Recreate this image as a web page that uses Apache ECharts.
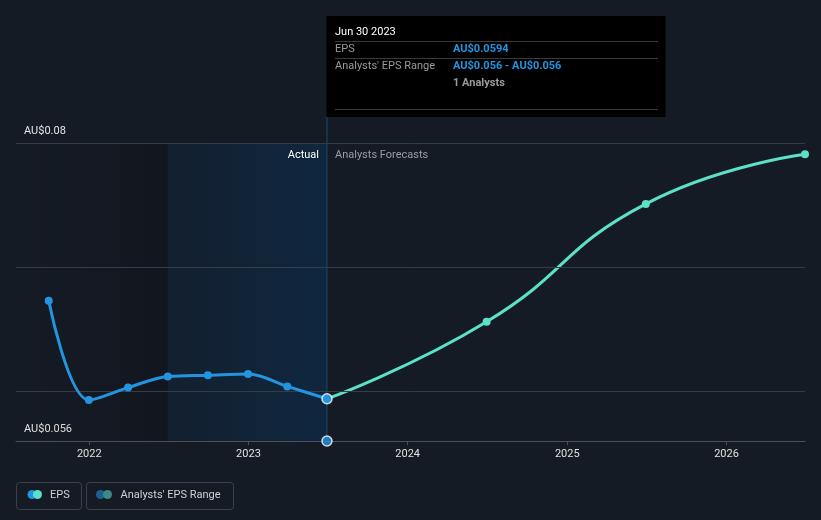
<!DOCTYPE html>
<html>
<head>
<meta charset="utf-8">
<script src="https://cdn.jsdelivr.net/npm/echarts@6/dist/echarts.min.js"></script>
<style>
html,body{margin:0;padding:0;background:#151b25;}
#chart{width:821px;height:520px;}
</style>
</head>
<body>
<div id="chart"></div>
<script>
// ---- data ----
const actualDates = ['2021-09-30','2021-12-31','2022-03-31','2022-06-30','2022-09-30','2022-12-31','2023-03-31','2023-06-30'];
const actualEps = [0.0673, 0.0593, 0.0603, 0.0612, 0.0613, 0.0614, 0.0604, 0.0594];
const forecastDates = ['2023-06-30','2024-06-30','2025-06-30','2026-06-30'];
const forecastEps = [0.0594, 0.0656, 0.0751, 0.0791];
const rangeDate = '2023-06-30';
const rangeLow = 0.056;
const rangeHigh = 0.056;
const analystsCount = 1;
const gridValues = [0.06, 0.07, 0.08];
const yLabelValues = [0.056, 0.08];
const xMin = '2021-07-17';
const xMax = '2026-06-30';
const yMin = 0.056;
const yMax = 0.0821;
const pastStart = '2022-06-30';
const tooltipTitle = 'Jun 30 2023';

const FONT = 'Roboto, "Noto Sans", sans-serif';
const chart = echarts.init(document.getElementById('chart'), null, {renderer: 'canvas'});

function fmt(v, d) { return 'AU$' + v.toFixed(d); }

const option = {
  backgroundColor: '#151b25',
  animation: false,
  textStyle: {fontFamily: FONT},
  grid: {left: 16, right: 16, top: 117, bottom: 79},
  xAxis: {
    type: 'time',
    min: xMin,
    max: xMax,
    splitNumber: 5,
    axisLine: {lineStyle: {color: '#4a4f59', width: 1}},
    axisTick: {show: true, length: 4, lineStyle: {color: '#4a4f59'}},
    splitLine: {show: false},
    axisLabel: {
      color: '#e0e0e0', fontSize: 11, margin: 8, fontFamily: FONT,
      formatter: function (v) { return String(new Date(v).getFullYear()); }
    }
  },
  yAxis: {
    type: 'value',
    min: yMin,
    max: yMax,
    interval: 0.002,
    axisLine: {show: false},
    axisTick: {show: false},
    splitLine: {show: false},
    axisLabel: {
      inside: true, margin: 8, color: '#e6e6e6', fontSize: 11, fontFamily: FONT,
      verticalAlign: 'bottom', padding: [0, 0, 6, 0],
      showMinLabel: true,
      formatter: function (v) {
        for (const t of yLabelValues) {
          if (Math.abs(v - t) < 1e-9) return fmt(t, t === 0.08 ? 2 : 3);
        }
        return '';
      }
    }
  },
  series: [
    {
      name: 'EPS',
      type: 'line',
      data: actualDates.map((d, i) => [d, actualEps[i]]),
      smooth: 0.35,
      symbol: 'circle',
      symbolSize: 8,
      lineStyle: {color: '#2394df', width: 3},
      itemStyle: {color: '#2394df'},
      z: 5,
      markLine: {
        silent: true,
        symbol: 'none',
        label: {show: false},
        lineStyle: {color: '#363b45', type: 'solid', width: 1},
        data: gridValues.map(v => ({yAxis: v}))
      },
      markArea: {
        silent: true,
        data: [
          [
            {xAxis: xMin, yAxis: 0.08, itemStyle: {color: new echarts.graphic.LinearGradient(0, 0, 1, 0, [
              {offset: 0, color: 'rgba(0,0,0,0)'}, {offset: 1, color: 'rgba(0,0,0,0.18)'}])}},
            {xAxis: pastStart, yAxis: yMin}
          ],
          [
            {xAxis: pastStart, yAxis: 0.08, itemStyle: {color: new echarts.graphic.LinearGradient(0, 0, 1, 0, [
              {offset: 0, color: 'rgba(0,70,130,0.1)'}, {offset: 1, color: 'rgba(0,70,130,0.28)'}])}},
            {xAxis: rangeDate, yAxis: yMin}
          ]
        ]
      }
    },
    {
      name: 'EPS Forecast',
      type: 'line',
      data: forecastDates.map((d, i) => [d, forecastEps[i]]),
      smooth: 0.5,
      symbol: 'circle',
      symbolSize: 8,
      lineStyle: {color: '#5ce0c8', width: 3},
      itemStyle: {color: '#5ce0c8'},
      z: 4
    },
    {
      name: 'Crosshair',
      type: 'line',
      data: [[rangeDate, yMin], [rangeDate, yMax]],
      symbol: 'none',
      silent: true,
      lineStyle: {color: '#1d4a70', width: 1},
      itemStyle: {color: '#1d4a70'},
      emphasis: {disabled: true},
      z: 3
    },
    {
      name: 'Highlight',
      type: 'scatter',
      data: [[rangeDate, actualEps[actualEps.length - 1]], [rangeDate, rangeLow]],
      symbol: 'circle',
      symbolSize: 10,
      clip: false,
      itemStyle: {color: '#2394df', borderColor: '#ffffff', borderWidth: 1.5},
      z: 10,
      silent: true
    }
  ]
};
chart.setOption(option);

// ---- overlay texts / tooltip / legend positioned from the chart's own scales ----
const px = chart.convertToPixel({gridIndex: 0}, [rangeDate, 0.08]);
const cx = Math.round(px[0]);
const topY = px[1];
const tipW = 339, tipTop = 16, tipH = 101;
const valX = cx + 126;
const textStyleBase = {fontFamily: FONT, fontSize: 11};

chart.setOption({
  graphic: [
    // Actual / Analysts Forecasts
    {type: 'text', x: cx - 8, y: topY + 12, style: Object.assign({}, textStyleBase, {text: 'Actual', fill: '#ffffff', align: 'right', verticalAlign: 'middle'}), z: 20},
    {type: 'text', x: cx + 8, y: topY + 12, style: Object.assign({}, textStyleBase, {text: 'Analysts Forecasts', fill: '#9a9da3', align: 'left', verticalAlign: 'middle'}), z: 20},
    // tooltip
    {type: 'rect', shape: {x: cx - 0.5, y: tipTop, width: tipW, height: tipH}, style: {fill: '#000000'}, z: 30},
    {type: 'text', x: cx + 8, y: tipTop + 16, style: Object.assign({}, textStyleBase, {text: tooltipTitle, fill: '#ffffff', verticalAlign: 'middle'}), z: 31},
    {type: 'line', shape: {x1: cx + 8, y1: tipTop + 25.5, x2: cx + 331, y2: tipTop + 25.5}, style: {stroke: '#3a3a3a', lineWidth: 1}, z: 31},
    {type: 'text', x: cx + 8, y: tipTop + 33.5, style: Object.assign({}, textStyleBase, {text: 'EPS', fill: '#9a9a9a', verticalAlign: 'middle'}), z: 31},
    {type: 'text', x: valX, y: tipTop + 33.5, style: Object.assign({}, textStyleBase, {text: fmt(actualEps[actualEps.length - 1], 4), fill: '#2394df', fontWeight: 'bold', verticalAlign: 'middle'}), z: 31},
    {type: 'line', shape: {x1: cx + 8, y1: tipTop + 42.5, x2: cx + 331, y2: tipTop + 42.5}, style: {stroke: '#3a3a3a', lineWidth: 1}, z: 31},
    {type: 'text', x: cx + 8, y: tipTop + 50.5, style: Object.assign({}, textStyleBase, {text: "Analysts' EPS Range", fill: '#9a9a9a', verticalAlign: 'middle'}), z: 31},
    {type: 'text', x: valX, y: tipTop + 50.5, style: Object.assign({}, textStyleBase, {text: fmt(rangeLow, 3) + ' - ' + fmt(rangeHigh, 3), fill: '#2394df', fontWeight: 'bold', verticalAlign: 'middle'}), z: 31},
    {type: 'text', x: valX, y: tipTop + 67, style: Object.assign({}, textStyleBase, {text: analystsCount + ' Analysts', fill: '#9a9a9a', fontWeight: 'bold', verticalAlign: 'middle'}), z: 31},
    {type: 'line', shape: {x1: cx + 8, y1: tipTop + 93.5, x2: cx + 331, y2: tipTop + 93.5}, style: {stroke: '#3a3a3a', lineWidth: 1}, z: 31},
    // legend
    {type: 'rect', shape: {x: 16.5, y: 482.5, width: 65, height: 27, r: 3}, style: {fill: 'none', stroke: '#3b404b', lineWidth: 1}, z: 20},
    {type: 'circle', shape: {cx: 32, cy: 494.5, r: 4.5}, style: {fill: '#2394df'}, z: 21},
    {type: 'circle', shape: {cx: 37.5, cy: 494.5, r: 4.5}, style: {fill: '#5ce0c8'}, z: 22},
    {type: 'text', x: 50, y: 495, style: Object.assign({}, textStyleBase, {text: 'EPS', fill: '#d0d0d0', verticalAlign: 'middle'}), z: 21},
    {type: 'rect', shape: {x: 86.5, y: 482.5, width: 147, height: 27, r: 3}, style: {fill: 'none', stroke: '#3b404b', lineWidth: 1}, z: 20},
    {type: 'circle', shape: {cx: 100.5, cy: 494.5, r: 4.5}, style: {fill: '#1f5f94'}, z: 21},
    {type: 'circle', shape: {cx: 107.5, cy: 494.5, r: 4.5}, style: {fill: '#3b8a84'}, z: 22},
    {type: 'text', x: 120.5, y: 495, style: Object.assign({}, textStyleBase, {text: "Analysts' EPS Range", fill: '#d0d0d0', verticalAlign: 'middle'}), z: 21}
  ]
});
</script>
</body>
</html>
